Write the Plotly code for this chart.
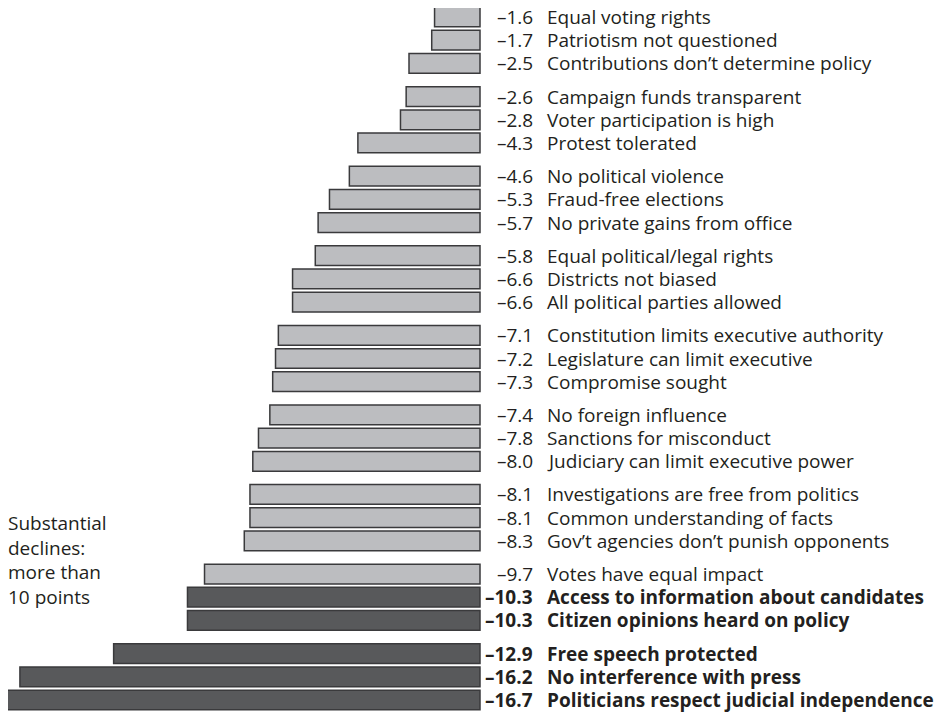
import plotly.graph_objects as go

labels = [
    "Equal voting rights", "Patriotism not questioned", "Contributions don\u2019t determine policy",
    "Campaign funds transparent", "Voter participation is high", "Protest tolerated",
    "No political violence", "Fraud-free elections", "No private gains from office",
    "Equal political/legal rights", "Districts not biased", "All political parties allowed",
    "Constitution limits executive authority", "Legislature can limit executive", "Compromise sought",
    "No foreign influence", "Sanctions for misconduct", "Judiciary can limit executive power",
    "Investigations are free from politics", "Common understanding of facts", "Gov\u2019t agencies don\u2019t punish opponents",
    "Votes have equal impact", "Access to information about candidates", "Citizen opinions heard on policy",
    "Free speech protected", "No interference with press", "Politicians respect judicial independence",
]
values = [
    -1.6, -1.7, -2.5,
    -2.6, -2.8, -4.3,
    -4.6, -5.3, -5.7,
    -5.8, -6.6, -6.6,
    -7.1, -7.2, -7.3,
    -7.4, -7.8, -8.0,
    -8.1, -8.1, -8.3,
    -9.7, -10.3, -10.3,
    -12.9, -16.2, -16.7,
]
note_lines = ["Substantial", "declines:", "more than", "10 points"]
threshold = -10

GROUP_STEP = 3.43
pos = [(k // 3) * GROUP_STEP + (k % 3) for k in range(len(values))]

LIGHT = "#bcbdc0"
DARK = "#58595b"
colors = [DARK if v < threshold else LIGHT for v in values]

FONT = "Open Sans"
FS = 19
TXT = "#231f20"

W, H = 934, 704
PX_PER_X = 28.4
ZERO_PX = 472
PX_PER_Y = 23.2
ROW0_PX = 9

fig = go.Figure(go.Bar(
    x=values, y=pos, orientation="h", width=0.85,
    marker=dict(color=colors, line=dict(color="#3a3a3c", width=1.5)),
    hoverinfo="skip",
))

for v, lab, p in zip(values, labels, pos):
    fw = "bold" if v < threshold else "normal"
    fig.add_annotation(x=0, y=p, xref="x", yref="y", text=f"\u2013{abs(v):.1f}",
                       showarrow=False, xanchor="right", yanchor="middle", xshift=55,
                       font=dict(family=FONT, size=FS, color=TXT, weight=fw))
    fig.add_annotation(x=0, y=p, xref="x", yref="y", text=lab,
                       showarrow=False, xanchor="left", yanchor="middle", xshift=65,
                       font=dict(family=FONT, size=FS, color=TXT, weight=fw))

for i, t in enumerate(note_lines):
    fig.add_annotation(x=0, y=1 - (515 + i * 24.7) / H, xref="paper", yref="paper", text=t,
                       showarrow=False, xanchor="left", yanchor="middle", xshift=-2,
                       font=dict(family=FONT, size=FS, color=TXT))

fig.update_layout(
    width=W, height=H, margin=dict(l=0, r=0, t=0, b=0),
    plot_bgcolor="white", paper_bgcolor="white", showlegend=False,
    xaxis=dict(range=[-ZERO_PX / PX_PER_X, (W - ZERO_PX) / PX_PER_X], visible=False),
    yaxis=dict(range=[(H - ROW0_PX) / PX_PER_Y, -ROW0_PX / PX_PER_Y], visible=False),
)
fig.write_html("out.html")
